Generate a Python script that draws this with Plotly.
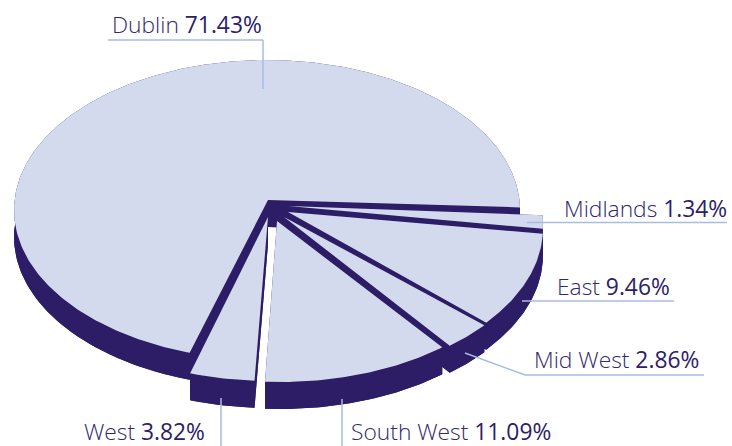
import numpy as np
import plotly.graph_objects as go

regions = ["Dublin", "Midlands", "East", "Mid West", "South West", "West"]
shares = [71.43, 1.34, 9.46, 2.86, 11.09, 3.82]
labels = ["71.43%", "1.34%", "9.46%", "2.86%", "11.09%", "3.82%"]

# Projection of the tilted disc
RX, RY, DEPTH = 253.0, 150.0, 27.0
LIGHT, DARK, LEADER = "#d3daed", "#2c1d66", "#a9bbdf"
NAME_C, VALUE_C = "#32286e", "#2c2068"

# explosion layout per region: ellipse centre, apex
centres = {"Dublin": (267, 210), "Midlands": (290, 223), "East": (290, 228),
           "Mid West": (288, 230.5), "South West": (280.5, 232), "West": (270, 231)}
apexes = {"Dublin": (268, 200), "Midlands": (288, 206), "East": (288, 212),
          "Mid West": (284, 217), "South West": (277, 221), "West": (268, 217)}

# the drawn pie is slightly uneven: tilt distorts the sweep of each side
DUBLIN_START, DUBLIN_K = 107.8, 251.2 / 257.15
RIGHT_START, RIGHT_K = -3.0, 111.4 / 102.85

angles = {}
t = RIGHT_START
for name, v in zip(regions[1:], shares[1:]):
    angles[name] = (t, t + v * 3.6 * RIGHT_K)
    t += v * 3.6 * RIGHT_K
angles["Dublin"] = (DUBLIN_START, DUBLIN_START + shares[0] * 3.6 * DUBLIN_K)


def arc(name):
    a0, a1 = angles[name]
    n = max(12, int((a1 - a0) * 1.5))
    th = np.radians(np.linspace(a0, a1, n))
    cx, cy = centres[name]
    return cx + RX * np.cos(th), cy + RY * np.sin(th)


def poly(fig, xs, ys, color, name=None):
    fig.add_trace(go.Scatter(x=list(xs) + [xs[0]], y=list(ys) + [ys[0]], mode="lines", fill="toself",
                             fillcolor=color, line=dict(color=color, width=0),
                             hoverinfo="skip", showlegend=False, name=name))


fig = go.Figure()
for name in regions:
    ax, ay = apexes[name]
    ox, oy = arc(name)
    px, py = np.r_[ax, ox], np.r_[ay, oy]
    poly(fig, px, py + DEPTH, DARK)                                   # underside
    poly(fig, np.r_[ox, ox[::-1]], np.r_[oy, oy[::-1] + DEPTH], DARK)  # rim
    for ex, ey in ((ox[0], oy[0]), (ox[-1], oy[-1])):                  # cut faces
        poly(fig, [ax, ex, ex, ax], [ay, ey, ey + DEPTH, ay + DEPTH], DARK)
    poly(fig, px, py, LIGHT, name)                                    # top

leaders = [
    [(108, 40), (263, 40), (263, 89)],
    [(527, 222.5), (727, 222.5)],
    [(522, 301), (674, 301)],
    [(465, 353), (525, 375), (704, 375)],
    [(342, 399), (342, 446)],
    [(221, 398), (221, 446)],
]
shapes = []
for pts in leaders:
    for (x0, y0), (x1, y1) in zip(pts[:-1], pts[1:]):
        shapes.append(dict(type="line", x0=x0, y0=y0, x1=x1, y1=y1, xref="x", yref="y",
                           layer="above", line=dict(color=LEADER, width=1.5)))

label_pos = [(110, 24), (562, 208), (555, 286), (532, 359), (349, 431), (82, 431)]
annotations = []
for name, lab, (x, y) in zip(regions, labels, label_pos):
    annotations.append(dict(x=x, y=y, xref="x", yref="y", xanchor="left", yanchor="middle",
                            showarrow=False, align="left",
                            text=f'{name} <span style="color:{VALUE_C};font-weight:400">{lab}</span>',
                            font=dict(family="Open Sans", size=22.8, color=NAME_C, weight=300)))

fig.update_layout(
    width=732, height=446, margin=dict(l=0, r=0, t=0, b=0),
    paper_bgcolor="white", plot_bgcolor="white", showlegend=False,
    xaxis=dict(range=[0, 732], visible=False, fixedrange=True),
    yaxis=dict(range=[446, 0], visible=False, fixedrange=True),
    shapes=shapes, annotations=annotations,
)
fig.write_html("out.html", config=dict(displayModeBar=False),
               post_script="document.body.style.margin='0';document.body.style.overflow='hidden';")
